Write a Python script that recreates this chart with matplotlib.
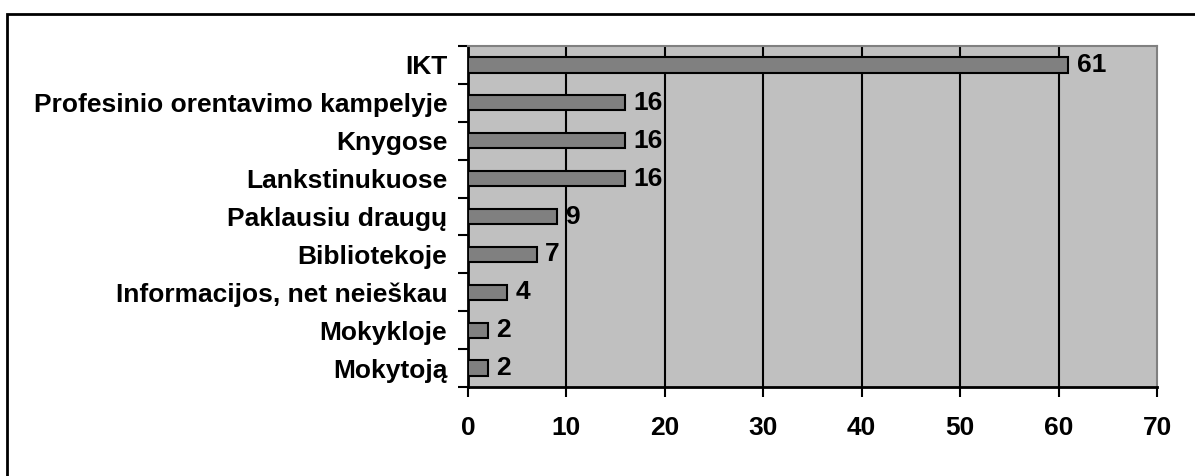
import matplotlib
matplotlib.use('Agg')
import matplotlib.pyplot as plt
from matplotlib.patches import Rectangle
from matplotlib.ticker import FixedLocator

# data, top to bottom as in the chart
categories = ['IKT', 'Profesinio orentavimo kampelyje', 'Knygose', 'Lankstinukuose',
              'Paklausiu draugų', 'Bibliotekoje', 'Informacijos, net neieškau',
              'Mokykloje', 'Mokytoją']
values = [61, 16, 16, 16, 9, 7, 4, 2, 2]
x_ticks = [0, 10, 20, 30, 40, 50, 60, 70]

plt.rcParams['font.family'] = ['Liberation Sans', 'DejaVu Sans']
plt.rcParams['font.weight'] = 'bold'
FS = 19

fig = plt.figure(figsize=(11.95, 4.76), dpi=100)
ax = fig.add_axes([468 / 1195, 1 - 387 / 476, (1157 - 468) / 1195, (387 - 46) / 476])
ax.set_facecolor('#C0C0C0')

n = len(categories)
pos = list(range(n))
ax.barh(pos, values, height=0.4, color='#808080', edgecolor='black', linewidth=1.5, zorder=3)
for p, v in zip(pos, values):
    ax.annotate(str(v), (v, p), xytext=(6, 0), textcoords='offset points',
                va='center', ha='left', fontsize=FS, fontweight='bold', zorder=4)

ax.set_xlim(0, 70)
ax.set_ylim(n - 0.5, -0.5)

# vertical gridlines
for t in x_ticks[1:-1]:
    ax.axvline(t, color='black', linewidth=1.5, zorder=2)

ax.set_xticks(x_ticks)
ax.set_xticklabels([str(t) for t in x_ticks], fontsize=FS, fontweight='bold')
ax.tick_params(axis='x', length=7, width=1.5, pad=14, direction='out')

ax.set_yticks(pos)
ax.set_yticklabels(categories, fontsize=FS, fontweight='bold')
ax.tick_params(axis='y', which='major', length=0, pad=15)
ax.yaxis.set_minor_locator(FixedLocator([i - 0.5 for i in range(n + 1)]))
ax.tick_params(axis='y', which='minor', length=7, width=1.5, direction='out')

for s in ['left', 'bottom']:
    ax.spines[s].set_color('black')
    ax.spines[s].set_linewidth(2)
for s in ['top', 'right']:
    ax.spines[s].set_color('#808080')
    ax.spines[s].set_linewidth(1.5)

# figure border (right and bottom edges cut off in the original)
fig.patches.append(Rectangle((7 / 1195, -0.1), 1.2, 1 - 14 / 476 + 0.1,
                             transform=fig.transFigure, fill=False,
                             edgecolor='black', linewidth=2))

fig.savefig('out.png', dpi=100)
